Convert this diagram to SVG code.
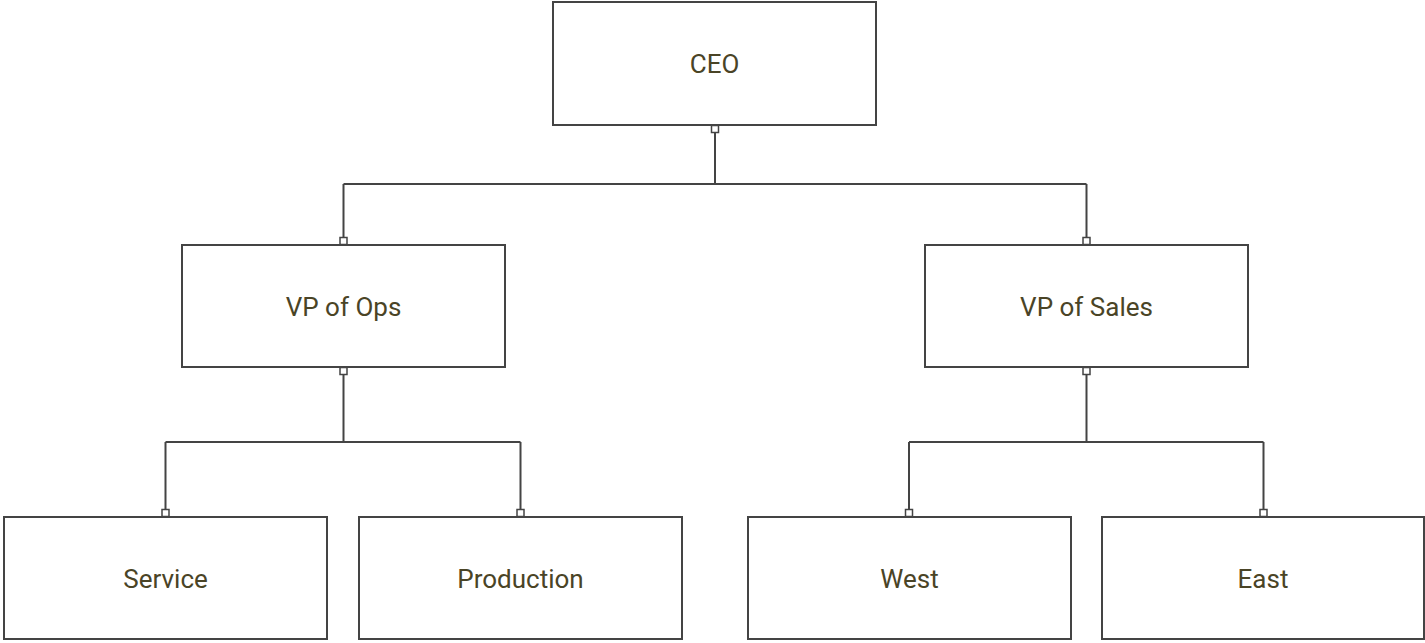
<svg xmlns="http://www.w3.org/2000/svg" width="1425" height="643" viewBox="0 0 1425 643">
  <style>
    .box { fill: #ffffff; stroke: #444444; stroke-width: 2; }
    .lbl { font-family: Roboto, "Liberation Sans", sans-serif; font-size: 26px; fill: #4a4426; text-anchor: middle; }
    .wire { fill: none; stroke: #444444; stroke-width: 2; }
    .port { fill: #ffffff; stroke: #444444; stroke-width: 1.5; }
  </style>
  <defs>
    <rect id="port" class="port" x="-3.5" y="-3.5" width="7" height="7"/>
  </defs>
  <rect x="0" y="0" width="1425" height="643" fill="#ffffff"/>
  <g id="connectors">
    <path class="wire" d="M715 132 V184 M343.5 184 H1086.5 M343.5 184 V237 M1086.5 184 V237"/>
    <path class="wire" d="M343.5 374 V442 M165.5 442 H520.5 M165.5 442 V509 M520.5 442 V509"/>
    <path class="wire" d="M1086.5 374 V442 M909 442 H1263.5 M909 442 V509 M1263.5 442 V509"/>
    <use href="#port" x="715" y="129"/>
    <use href="#port" x="343.5" y="241"/>
    <use href="#port" x="1086.5" y="241"/>
    <use href="#port" x="343.5" y="371"/>
    <use href="#port" x="1086.5" y="371"/>
    <use href="#port" x="165.5" y="513"/>
    <use href="#port" x="520.5" y="513"/>
    <use href="#port" x="909" y="513"/>
    <use href="#port" x="1263.5" y="513"/>
  </g>
  <g id="ceo">
    <rect class="box" x="553" y="2" width="323" height="123"/>
    <text class="lbl" x="714.5" y="73">CEO</text>
  </g>
  <g id="vp-ops">
    <rect class="box" x="182" y="245" width="323" height="122"/>
    <text class="lbl" x="343.5" y="316">VP of Ops</text>
  </g>
  <g id="vp-sales">
    <rect class="box" x="925" y="245" width="323" height="122"/>
    <text class="lbl" x="1086.5" y="316">VP of Sales</text>
  </g>
  <g id="service">
    <rect class="box" x="4" y="517" width="323" height="122"/>
    <text class="lbl" x="165.5" y="588">Service</text>
  </g>
  <g id="production">
    <rect class="box" x="359" y="517" width="323" height="122"/>
    <text class="lbl" x="520.5" y="588">Production</text>
  </g>
  <g id="west">
    <rect class="box" x="748" y="517" width="323" height="122"/>
    <text class="lbl" x="909.5" y="588">West</text>
  </g>
  <g id="east">
    <rect class="box" x="1102" y="517" width="322" height="122"/>
    <text class="lbl" x="1263" y="588">East</text>
  </g>
</svg>
